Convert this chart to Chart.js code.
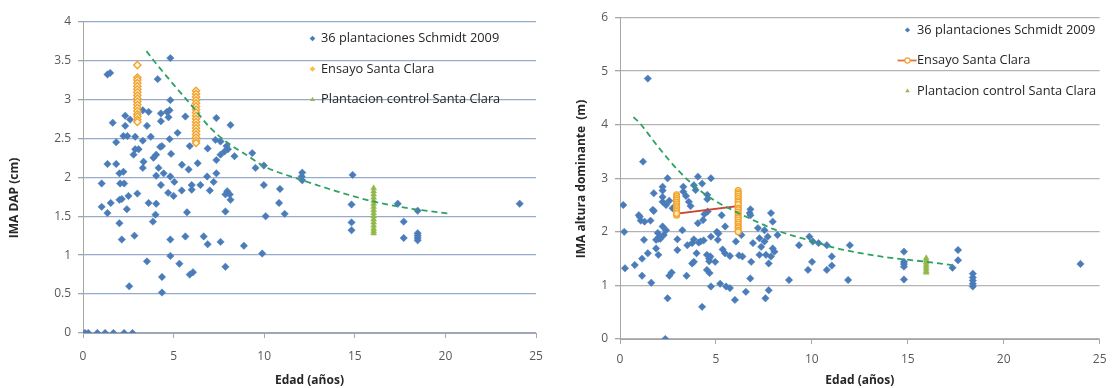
<!DOCTYPE html>
<html>
<head>
<meta charset="utf-8">
<script src="https://cdn.jsdelivr.net/npm/chart.js@4/dist/chart.umd.min.js"></script>
<style>
  html, body { margin: 0; padding: 0; background: #ffffff; }
  #wrap { position: relative; width: 1115px; height: 388px; }
  canvas { position: absolute; top: 0; }
  #dapChart { left: 0; }
  #altChart { left: 555px; }
</style>
</head>
<body>
<div id="wrap">
  <canvas id="dapChart" width="555" height="388"></canvas>
  <canvas id="altChart" width="560" height="388"></canvas>
</div>
<script>
// ---- Series names and tick labels ----
const seriesNames = ['36 plantaciones Schmidt 2009', 'Ensayo Santa Clara', 'Plantacion control Santa Clara'];
const ageTickLabels = ['0', '5', '10', '15', '20', '25'];
const dapTickLabels = ['0', '0.5', '1', '1.5', '2', '2.5', '3', '3.5', '4'];
const altTickLabels = ['0', '1', '2', '3', '4', '5', '6'];

// ---- IMA DAP (cm): 36 plantaciones Schmidt 2009 ----
const dapSchmidtAge = [
  0.11, 0.29, 0.79, 1.22, 1.68, 2.27, 2.73,
  1.35, 1.5, 4.82, 4.12, 4.82,
  1.64, 2.33, 2.6, 2.33, 3.3, 3.62, 3.53, 4.3, 4.63, 4.78, 4.3, 4.72, 5.65, 7.36, 8.14,
  1.83, 2.23, 2.45, 2.88, 3.3, 3.74, 4.78, 5.22, 6.88, 5.89, 7.31, 7.59, 7.92, 8.0, 7.81, 7.59, 7.36, 8.36, 9.34, 9.52, 9.98, 9.98,
  2.88, 3.07, 2.79, 3.89, 4.04, 4.26, 4.36, 4.86,
  1.35, 1.83, 2.01, 2.23, 3.34, 3.3, 4.17, 4.45, 5.46, 5.83, 6.33, 7.36, 4.04, 4.82,
  1.03, 2.05, 2.27, 5.04, 6.85, 7.21, 6.48, 6.0, 4.3, 7.96, 8.1,
  1.03, 1.35, 1.53, 2.01, 2.14, 2.51, 2.42, 3.0, 2.01, 2.14, 2.84, 2.55, 3.62, 3.86, 4.0, 4.04,
  3.53, 4.36, 4.36, 4.82, 4.82, 5.0, 4.7, 5.32, 5.74, 5.65, 5.89, 6.07, 5.45, 6.0, 7.0, 6.66,
  6.88, 7.59, 7.86, 7.86, 7.86, 8.14, 8.88, 9.89, 10.08, 10.82,
  12.1, 12.07, 12.1, 14.88, 10.87, 11.13, 14.82, 14.82, 14.82, 17.37, 17.7, 17.7,
  18.47, 18.47, 18.47, 18.47, 18.47, 24.1
];
const dapSchmidtValue = [
  0, 0, 0, 0, 0, 0, 0,
  3.32, 3.34, 3.53, 3.26, 2.99,
  2.70, 2.79, 2.74, 2.66, 2.86, 2.84, 2.66, 2.82, 2.84, 2.86, 2.72, 2.77, 2.78, 2.76, 2.67,
  2.45, 2.53, 2.53, 2.52, 2.47, 2.52, 2.49, 2.57, 2.37, 2.40, 2.48, 2.46, 2.40, 2.36, 2.33, 2.29, 2.22, 2.27, 2.31, 2.12, 2.15, 1.90,
  2.36, 2.36, 2.29, 2.25, 2.29, 2.39, 2.40, 2.30,
  2.17, 2.17, 2.05, 2.07, 2.20, 2.12, 2.12, 2.05, 2.16, 2.10, 2.18, 2.05, 2.02, 2.01,
  1.92, 1.92, 1.92, 1.94, 2.01, 1.94, 1.90, 1.90, 1.90, 1.82, 1.78,
  1.62, 1.54, 1.67, 1.71, 1.72, 1.76, 1.59, 1.79, 1.41, 1.20, 1.25, 0.60, 1.67, 1.43, 1.52, 1.66,
  0.92, 0.72, 0.52, 1.20, 0.99, 1.76, 1.80, 0.89, 1.55, 1.24, 0.75, 0.78, 1.83, 1.84, 1.83, 1.24,
  1.14, 1.17, 1.56, 0.85, 1.78, 1.71, 1.12, 1.02, 1.50, 1.67,
  2.06, 2.01, 1.96, 2.03, 1.85, 1.53, 1.65, 1.42, 1.32, 1.66, 1.43, 1.22,
  1.57, 1.28, 1.25, 1.22, 1.19, 1.66
];

// ---- IMA DAP (cm): Ensayo Santa Clara ----
const dapEnsayoAge = [
  3.0, 3.0, 3.0, 3.0, 3.0, 3.0, 3.0, 3.0, 3.0, 3.0, 3.0, 3.0, 3.0, 3.0, 3.0, 3.0, 3.0,
  6.24, 6.24, 6.24, 6.24, 6.24, 6.24, 6.24, 6.24, 6.24, 6.24, 6.24, 6.24, 6.24, 6.24, 6.24, 6.24, 6.24, 6.24
];
const dapEnsayoValue = [
  3.44, 3.28, 3.25, 3.21, 3.17, 3.13, 3.09, 3.05, 3.01, 2.97, 2.93, 2.89, 2.85, 2.81, 2.78, 2.74, 2.71,
  3.11, 3.07, 3.03, 2.99, 2.95, 2.91, 2.87, 2.83, 2.79, 2.75, 2.71, 2.67, 2.63, 2.59, 2.55, 2.51, 2.47, 2.44
];

// ---- IMA DAP (cm): Plantacion control Santa Clara ----
const dapControlAge = [16.04, 16.04, 16.04, 16.04, 16.04, 16.04, 16.04, 16.04, 16.04, 16.04, 16.04, 16.04, 16.04, 16.04, 16.04, 16.04];
const dapControlValue = [1.86, 1.82, 1.78, 1.74, 1.70, 1.66, 1.62, 1.58, 1.54, 1.50, 1.46, 1.42, 1.38, 1.34, 1.31, 1.28];

// ---- IMA DAP (cm): trend curve ----
const dapTrendAge = [3.5, 4, 5, 6, 7, 8, 9, 10, 12, 14, 16, 18, 20.3];
const dapTrendValue = [3.62, 3.47, 3.19, 2.92, 2.64, 2.44, 2.29, 2.14, 1.97, 1.82, 1.69, 1.60, 1.53];

// ---- IMA altura dominante (m): 36 plantaciones Schmidt 2009 ----
const altSchmidtAge = [
  1.45, 1.2, 1.76, 2.48, 2.22, 2.22, 2.22, 2.22, 3.3, 3.3, 3.44, 4.06, 4.28, 4.74, 3.85, 3.94, 4.55, 4.55, 3.59, 0.17, 2.57, 2.74, 1.71, 2.4,
  0.22, 0.26, 0.77, 0.98, 1.08, 1.28, 1.59, 1.03, 1.25, 1.15, 1.15, 1.63, 1.45, 1.76, 1.88, 1.97, 2.0, 2.1, 1.88, 2.05, 2.0, 2.22, 2.28, 2.4,
  2.57, 2.69, 2.48, 2.36, 2.99, 2.99, 3.25, 3.47, 3.51, 3.68, 3.76, 3.85, 3.85, 3.76, 3.99, 4.1, 4.2, 4.36, 4.06, 4.28, 4.33, 4.4, 4.57,
  4.53, 4.71, 4.65, 4.65, 4.53, 4.67, 4.74, 4.74, 5.05, 5.13, 5.1, 4.96, 5.22, 5.53, 5.73, 5.35, 5.47, 5.73, 5.99, 6.04, 6.38, 6.2, 6.33,
  6.56, 6.79, 6.84, 6.93, 6.76, 6.8, 6.8, 7.27, 7.19, 7.27, 7.36, 7.61, 7.75, 7.75, 7.58, 7.96, 8.05, 7.87, 7.87, 7.96, 7.53, 7.53, 7.7,
  8.21, 8.81, 9.8, 10.01, 9.33, 9.87, 10.05, 10.35, 10.78, 10.78, 5.3, 5.48,
  11.98, 11.04, 11.04, 11.89, 14.8, 14.8, 14.8, 14.8, 14.8, 17.33, 17.62, 17.62, 18.39, 18.39, 18.39, 18.39, 18.39, 24.0
];
const altSchmidtValue = [
  4.86, 3.31, 2.72, 3.0, 2.84, 2.77, 2.65, 2.56, 2.84, 2.75, 2.67, 3.03, 2.9, 3.0, 2.87, 2.78, 2.69, 2.61, 2.56, 2.50, 2.58, 2.44, 2.41, 2.5,
  2.0, 1.32, 1.38, 2.31, 2.21, 2.19, 2.21, 2.28, 1.85, 1.5, 1.18, 1.05, 1.6, 2.39, 1.69, 1.98, 1.87, 1.87, 1.85, 1.91, 1.57, 2.1, 1.94, 2.03,
  1.18, 1.24, 0.76, 0.0, 1.66, 1.86, 2.03, 1.18, 1.75, 2.48, 1.41, 1.44, 1.86, 1.79, 1.6, 1.8, 1.82, 1.84, 2.16, 0.60, 2.22, 2.33, 2.38,
  1.57, 1.54, 1.5, 1.45, 1.29, 1.23, 0.98, 1.91, 2.0, 1.97, 1.85, 1.44, 1.03, 0.98, 0.95, 1.67, 1.6, 1.55, 0.73, 1.82, 1.54, 1.56, 1.94,
  0.88, 1.13, 1.44, 1.79, 2.35, 2.42, 2.31, 1.88, 2.07, 1.57, 1.72, 1.57, 1.41, 0.91, 0.76, 1.69, 1.63, 1.54, 2.35, 2.19, 2.03, 1.82, 1.91,
  1.94, 1.1, 1.29, 1.44, 1.75, 1.91, 1.82, 1.79, 1.75, 1.29, 2.31, 2.1,
  1.75, 1.54, 1.37, 1.1, 1.63, 1.44, 1.40, 1.35, 1.11, 1.33, 1.66, 1.47, 1.22, 1.15, 1.09, 1.03, 0.98, 1.40
];

// ---- IMA altura dominante (m): Ensayo Santa Clara (plotted in recorded order) ----
const altEnsayoAge = [
  2.95, 2.95, 2.95, 2.95, 2.95, 2.95, 2.95, 2.95, 2.95, 2.95, 2.95, 2.95,
  6.16, 6.16, 6.16, 6.16, 6.16, 6.16, 6.16, 6.16, 6.16, 6.16, 6.16, 6.16, 6.16, 6.16, 6.16, 6.16, 6.16, 6.16, 6.16, 6.16, 6.16, 6.16
];
const altEnsayoValue = [
  2.69, 2.66, 2.62, 2.59, 2.55, 2.52, 2.48, 2.45, 2.41, 2.38, 2.31, 2.34,
  2.48, 2.77, 2.73, 2.70, 2.66, 2.62, 2.58, 2.55, 2.51, 2.44, 2.41, 2.37, 2.33, 2.29, 2.26, 2.22, 2.18, 2.14, 2.10, 2.07, 2.03, 2.00
];

// ---- IMA altura dominante (m): Plantacion control Santa Clara ----
const altControlAge = [15.96, 15.96, 15.96, 15.96, 15.96, 15.96, 15.96, 15.96];
const altControlValue = [1.51, 1.47, 1.43, 1.39, 1.35, 1.31, 1.27, 1.24];

// ---- IMA altura dominante (m): trend curve ----
const altTrendAge = [0.7, 1, 2, 3, 4, 5, 6, 7, 8, 9, 10, 11, 12, 14, 16, 17.3];
const altTrendValue = [4.14, 4.04, 3.58, 3.16, 2.82, 2.57, 2.38, 2.21, 2.05, 1.93, 1.83, 1.72, 1.64, 1.52, 1.44, 1.38];

// ---- helpers ----
const toPoints = (xs, ys) => xs.map((x, i) => ({ x: x, y: ys[i] }));

const FONT = '"Open Sans", "Liberation Sans", sans-serif';
const BLUE = '#4A7CBA';
const ORANGE = '#F2A330';
const ORANGE_FILL = '#FFE7A6';
const GREEN = '#93B84A';
const TREND = '#2FA063';
const LINE_RED = '#CC4538';

// Rotated axis title drawn at a fixed spot beside the value axis.
const sideTitle = {
  id: 'sideTitle',
  afterDraw(chart, args, o) {
    const ctx = chart.ctx;
    ctx.save();
    ctx.translate(o.x, o.y);
    ctx.rotate(-Math.PI / 2);
    ctx.font = o.font;
    ctx.fillStyle = o.color;
    ctx.textAlign = 'center';
    ctx.textBaseline = 'middle';
    ctx.fillText(o.text, 0, 0);
    ctx.restore();
  }
};

// Legend laid over the upper right of the plot.
const cornerLegend = {
  id: 'cornerLegend',
  afterDatasetsDraw(chart, args, o) {
    const ctx = chart.ctx;
    o.rows.forEach((row, i) => {
      const ds = chart.data.datasets[row.dataset];
      const y = o.top + i * o.gap;
      ctx.save();
      if (row.lineColor) {
        ctx.strokeStyle = row.lineColor;
        ctx.lineWidth = 1.8;
        ctx.beginPath();
        ctx.moveTo(o.markerX - 10, y);
        ctx.lineTo(o.markerX + 9, y);
        ctx.stroke();
      }
      ctx.fillStyle = row.fill;
      ctx.strokeStyle = row.stroke || row.fill;
      ctx.lineWidth = row.border || 0;
      Chart.helpers.drawPoint(ctx, {
        pointStyle: ds.pointStyle, rotation: 0, radius: o.markerRadius, borderWidth: row.border || 0
      }, o.markerX, y);
      ctx.restore();
      ctx.save();
      ctx.font = o.font;
      ctx.textBaseline = 'middle';
      ctx.textAlign = 'left';
      ctx.fillStyle = o.color;
      ctx.fillText(ds.label, o.textX, y);
      ctx.restore();
    });
  }
};

function ageAxis(height, labelPad) {
  return {
    type: 'linear', min: 0, max: 25,
    afterFit(scale) { scale.height = height; },
    ticks: {
      stepSize: 5, padding: labelPad, color: '#595959',
      font: { family: FONT, size: 12 },
      callback: (v, i) => ageTickLabels[i]
    },
    grid: { drawOnChartArea: false, drawTicks: true, tickLength: 5, tickColor: '#A6A6A6' },
    border: { color: '#A6A6A6', width: 1 },
    title: {
      display: true, text: 'Edad (años)', color: '#262626',
      font: { family: FONT, size: 12, weight: 'bold' },
      padding: { top: 0, bottom: 0 }
    }
  };
}

function valueAxis(width, max, step, labels, gridColor) {
  return {
    type: 'linear', min: 0, max: max,
    afterFit(scale) { scale.width = width; },
    ticks: {
      stepSize: step, padding: 7, color: '#595959',
      font: { family: FONT, size: 12 },
      callback: (v, i) => labels[i]
    },
    grid: { color: gridColor, lineWidth: 1.3, drawTicks: true, tickLength: 5, tickColor: '#A6A6A6' },
    border: { color: '#A6A6A6', width: 1 }
  };
}

function schmidtSet(xs, ys) {
  return {
    label: seriesNames[0], data: toPoints(xs, ys), showLine: false,
    pointStyle: 'rectRot', pointRadius: 3.7,
    pointBackgroundColor: BLUE, pointBorderColor: BLUE, pointBorderWidth: 0.5,
    order: 3
  };
}

function controlSet(xs, ys) {
  return {
    label: seriesNames[2], data: toPoints(xs, ys), showLine: false,
    pointStyle: 'triangle', pointRadius: 3.4,
    pointBackgroundColor: GREEN, pointBorderColor: GREEN, pointBorderWidth: 0.5,
    order: 1
  };
}

function trendSet(xs, ys) {
  return {
    label: 'tendencia', data: toPoints(xs, ys), showLine: true,
    borderColor: TREND, borderWidth: 1.8, borderDash: [6, 4],
    pointRadius: 0, cubicInterpolationMode: 'monotone',
    order: 0
  };
}

const baseOptions = {
  responsive: false, animation: false, devicePixelRatio: 1,
  plugins: { legend: { display: false }, tooltip: { enabled: false } }
};

// ---- Left panel: IMA DAP ----
new Chart(document.getElementById('dapChart'), {
  type: 'scatter',
  data: {
    datasets: [
      schmidtSet(dapSchmidtAge, dapSchmidtValue),
      {
        label: seriesNames[1], data: toPoints(dapEnsayoAge, dapEnsayoValue), showLine: false,
        pointStyle: 'rectRot', pointRadius: 3.6,
        pointBackgroundColor: '#FFF6DC', pointBorderColor: ORANGE, pointBorderWidth: 1.4,
        order: 2
      },
      controlSet(dapControlAge, dapControlValue),
      trendSet(dapTrendAge, dapTrendValue)
    ]
  },
  options: Object.assign({}, baseOptions, {
    layout: { padding: { left: 0, right: 19, top: 21.5, bottom: 0 } },
    scales: {
      x: ageAxis(55, 11),
      y: valueAxis(83, 4, 0.5, dapTickLabels, '#96AACB')
    },
    plugins: Object.assign({}, baseOptions.plugins, {
      sideTitle: { text: 'IMA DAP (cm)', x: 15, y: 198, color: '#262626', font: 'bold 12px ' + FONT },
      cornerLegend: {
        font: '12.8px ' + FONT, color: '#262626', markerX: 312.5, textX: 321, top: 38.5, gap: 30.5, markerRadius: 2.8,
        rows: [
          { dataset: 0, fill: BLUE },
          { dataset: 1, fill: '#F7C13E' },
          { dataset: 2, fill: GREEN }
        ]
      }
    })
  }),
  plugins: [sideTitle, cornerLegend]
});

// ---- Right panel: IMA altura dominante ----
new Chart(document.getElementById('altChart'), {
  type: 'scatter',
  data: {
    datasets: [
      schmidtSet(altSchmidtAge, altSchmidtValue),
      {
        label: seriesNames[1], data: toPoints(altEnsayoAge, altEnsayoValue), showLine: true,
        borderColor: LINE_RED, borderWidth: 1.8,
        pointStyle: 'circle', pointRadius: 2.9,
        pointBackgroundColor: ORANGE_FILL, pointBorderColor: ORANGE, pointBorderWidth: 1.3,
        order: 2
      },
      controlSet(altControlAge, altControlValue),
      trendSet(altTrendAge, altTrendValue)
    ]
  },
  options: Object.assign({}, baseOptions, {
    layout: { padding: { left: 0, right: 8, top: 17.5, bottom: 0 } },
    scales: {
      x: ageAxis(49, 8.5),
      y: valueAxis(65, 6, 1, altTickLabels, '#B3B3B3')
    },
    plugins: Object.assign({}, baseOptions.plugins, {
      sideTitle: { text: 'IMA altura dominante  (m)', x: 27, y: 179, color: '#262626', font: 'bold 12px ' + FONT },
      cornerLegend: {
        font: '12.8px ' + FONT, color: '#262626', markerX: 352.5, textX: 362, top: 30, gap: 30.5, markerRadius: 2.6,
        rows: [
          { dataset: 0, fill: BLUE },
          { dataset: 1, fill: '#FFFFFF', stroke: ORANGE, border: 1.2, lineColor: '#E8713A' },
          { dataset: 2, fill: GREEN }
        ]
      }
    })
  }),
  plugins: [sideTitle, cornerLegend]
});
</script>
</body>
</html>
